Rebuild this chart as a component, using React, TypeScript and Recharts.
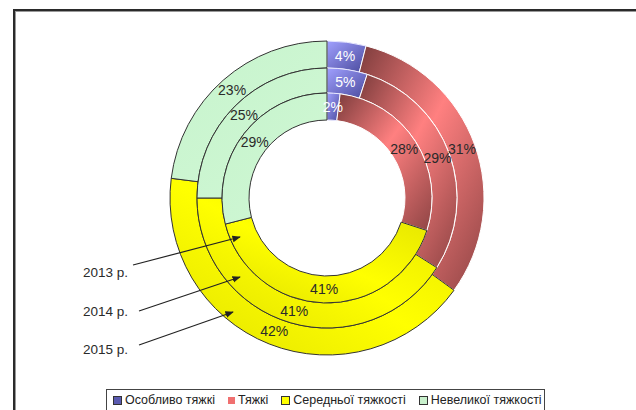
import { PieChart, Pie, Cell } from "recharts";

const categories = ["Особливо тяжкі", "Тяжкі", "Середньої тяжкості", "Невеликої тяжкості"];
const years = ["2013 р.", "2014 р.", "2015 р."];
const values2013 = [2, 28, 41, 29];
const values2014 = [5, 29, 41, 25];
const values2015 = [4, 31, 42, 23];

const fills = ["url(#gBlue)", "url(#gRed)", "url(#gYellow)", "url(#gGreen)"];
const swatches = ["#5a5ab0", "#f07070", "#ffff00", "#c8f0cc"];
const strokes = ["#e8e8ff", "#ffffff", "#333333", "#333333"];
const labelColors = ["#ffffff", "#2a2a2a", "#2a2a2a", "#2a2a2a"];

const CX = 327;
const CY = 198;
const RAD = Math.PI / 180;

const rows = (vals: number[]) => vals.map((v, i) => ({ name: categories[i], value: v, idx: i }));

const pctLabel = (p: any) => {
  const r = (p.innerRadius + p.outerRadius) / 2;
  const x = p.cx + r * Math.cos(-p.midAngle * RAD);
  const y = p.cy + r * Math.sin(-p.midAngle * RAD);
  return (
    <text x={x} y={y} fill={labelColors[p.payload.idx]} fontSize={14}
      fontFamily="'Liberation Sans', Arial, sans-serif" textAnchor="middle" dominantBaseline="central">
      {`${p.value}%`}
    </text>
  );
};

// arrows from year captions to their ring
const arrows = [
  { text: years[0], tx: 83, ty: 272, x1: 133, y1: 265, x2: 240, y2: 237 },
  { text: years[1], tx: 83, ty: 311, x1: 139, y1: 311, x2: 240, y2: 277 },
  { text: years[2], tx: 83, ty: 349, x1: 139, y1: 345, x2: 233, y2: 312 },
];

const ring = (id: string, vals: number[], inner: number, outer: number) => (
  <Pie key={id} data={rows(vals)} dataKey="value" cx={CX} cy={CY}
    innerRadius={inner} outerRadius={outer} startAngle={90} endAngle={-270}
    label={pctLabel} labelLine={false} isAnimationActive={false}>
    {vals.map((_, i) => (
      <Cell key={i} fill={fills[i]} stroke={strokes[i]} strokeWidth={1} />
    ))}
  </Pie>
);

export default function App() {
  return (
    <div style={{ position: "absolute", left: 0, top: 0, width: 636, height: 410, background: "#fff", overflow: "hidden" }}>
      <div style={{
        position: "absolute", left: 13, top: 9, width: 700, height: 500,
        borderLeft: "2px solid #2a2a2a", borderTop: "2px solid #2a2a2a",
        boxShadow: "inset 1px 1px 0 #999",
      }} />
      <div style={{ position: "absolute", left: 0, top: 0 }}>
        <PieChart width={636} height={410} margin={{ top: 0, right: 0, bottom: 0, left: 0 }}>
          <defs>
            <linearGradient id="gBlue" x1="0" y1="0" x2="1" y2="1">
              <stop offset="0%" stopColor="#a0a0ff" />
              <stop offset="100%" stopColor="#4a4a9c" />
            </linearGradient>
            <linearGradient id="gRed" x1="0" y1="0" x2="1" y2="1">
              <stop offset="0%" stopColor="#7c3c3c" />
              <stop offset="45%" stopColor="#ff8080" />
              <stop offset="100%" stopColor="#8e4444" />
            </linearGradient>
            <linearGradient id="gYellow" x1="0" y1="1" x2="1" y2="0">
              <stop offset="0%" stopColor="#e2e200" />
              <stop offset="50%" stopColor="#ffff00" />
              <stop offset="100%" stopColor="#e6e600" />
            </linearGradient>
            <linearGradient id="gGreen" x1="0" y1="0" x2="1" y2="1">
              <stop offset="0%" stopColor="#c6f4cc" />
              <stop offset="60%" stopColor="#cdf6d2" />
              <stop offset="100%" stopColor="#b2e0b8" />
            </linearGradient>
          </defs>
          {ring("y2015", values2015, 130, 157)}
          {ring("y2014", values2014, 105, 130)}
          {ring("y2013", values2013, 78, 105)}
        </PieChart>
      </div>
      <svg width={636} height={410} style={{ position: "absolute", left: 0, top: 0 }}>
        <defs>
          <marker id="ah" viewBox="0 0 10 10" refX="9" refY="5" markerWidth="7" markerHeight="7" orient="auto">
            <path d="M0,1 L10,5 L0,9 z" fill="#222" />
          </marker>
        </defs>
        {arrows.map((a) => (
          <g key={a.text}>
            <line x1={a.x1} y1={a.y1} x2={a.x2} y2={a.y2} stroke="#222" strokeWidth={1.2} markerEnd="url(#ah)" />
            <text x={a.tx} y={a.ty} fontSize={13.5} fill="#2a2a2a" dominantBaseline="central"
              fontFamily="'Liberation Sans', Arial, sans-serif">{a.text}</text>
          </g>
        ))}
      </svg>
      <div style={{
        position: "absolute", left: 106, top: 389, width: 439, height: 40,
        border: "1px solid #444", boxSizing: "border-box", display: "flex", alignItems: "flex-start",
        paddingLeft: 6, paddingTop: 3, fontFamily: "'Liberation Sans', Arial, sans-serif", fontSize: 12.5, color: "#222",
      }}>
        {categories.map((c, i) => (
          <div key={c} style={{ display: "flex", alignItems: "center", marginRight: 13, whiteSpace: "nowrap" }}>
            <span style={{
              display: "inline-block", width: 7, height: 7, background: swatches[i],
              border: i === 1 ? "none" : "1px solid #333", marginRight: 3,
            }} />
            {c}
          </div>
        ))}
      </div>
    </div>
  );
}
